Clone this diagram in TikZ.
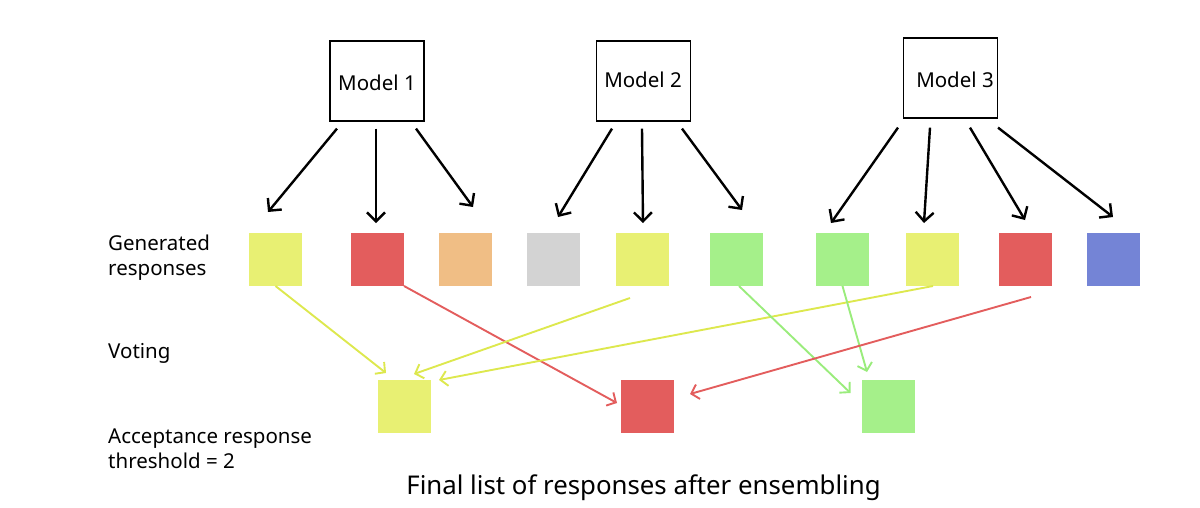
\documentclass[tikz,border=0pt]{standalone}
\usepackage{fontspec}
\setmainfont{Noto Sans}
\usetikzlibrary{arrows.meta}
\definecolor{cyel}{HTML}{E8F073}
\definecolor{cred}{HTML}{E35D5D}
\definecolor{corg}{HTML}{F0BE85}
\definecolor{cgry}{HTML}{D3D3D3}
\definecolor{cgrn}{HTML}{A5F08A}
\definecolor{cblu}{HTML}{7484D6}
\definecolor{ayel}{HTML}{DDE84E}
\definecolor{agrn}{HTML}{9AEC7C}
\tikzset{
  resp/.style={minimum size=53pt,inner sep=0pt,outer sep=0pt},
  modelbox/.style={draw=black,line width=1.2pt,minimum width=94pt,minimum height=80pt,inner sep=0pt},
  mtext/.style={font=\fontsize{20.5}{24}\selectfont,inner sep=0pt},
  barr/.style={draw=black,line width=2.4pt,-{Straight Barb[length=9pt,width=18pt,line width=2.4pt]}},
  carr/.style={line width=1.9pt,-{Straight Barb[length=7pt,width=15pt,line width=1.9pt]}},
  lbl/.style={anchor=west,align=left,font=\fontsize{20.5}{24.5}\selectfont,inner sep=0pt}
}
\begin{document}
\begin{tikzpicture}[x=1pt,y=-1pt]
\useasboundingbox (0,0) rectangle (1200,507);
% model boxes
\node[modelbox] (m1) at (377,81) {};
\node[mtext] (t1) at (377,83) {Model 1};
\node[modelbox] (m2) at (643.5,81) {};
\node[mtext] (t2) at (643,80) {Model 2};
\node[modelbox] (m3) at (950.5,78) {};
\node[mtext] (t3) at (955,80) {Model 3};
% generated responses
\node[resp,fill=cyel] (s1) at (275.5,259.5) {};
\node[resp,fill=cred] (s2) at (377.5,259.5) {};
\node[resp,fill=corg] (s3) at (465.5,259.5) {};
\node[resp,fill=cgry] (s4) at (553.5,259.5) {};
\node[resp,fill=cyel] (s5) at (642.5,259.5) {};
\node[resp,fill=cgrn] (s6) at (736.5,259.5) {};
\node[resp,fill=cgrn] (s7) at (842.5,259.5) {};
\node[resp,fill=cyel] (s8) at (932,259.5) {};
\node[resp,fill=cred] (s9) at (1025.5,259.5) {};
\node[resp,fill=cblu] (s10) at (1113,259.5) {};
% final responses
\node[resp,fill=cyel] (b1) at (404.5,406.5) {};
\node[resp,fill=cred] (b2) at (647.5,406.5) {};
\node[resp,fill=cgrn] (b3) at (888,406.5) {};
% labels
\node[lbl] (l1) at (108,257.5) {Generated\\responses};
\node[lbl] (l2) at (108,353) {Voting};
\node[lbl] (l3) at (108,448.5) {Acceptance response\\threshold = 2};
\node[font=\fontsize{25.8}{30}\selectfont,inner sep=0pt] (l4) at (643.5,488) {Final list of responses after ensembling};
% black arrows
\draw[barr] ([xshift=-40pt,yshift=-7pt]m1.south) -- ([xshift=-7.5pt,yshift=21pt]s1.north);
\draw[barr] ([xshift=-1pt,yshift=-7pt]m1.south) -- ([xshift=-1.5pt,yshift=10pt]s2.north);
\draw[barr] ([xshift=39pt,yshift=-7pt]m1.south) -- ([xshift=7.5pt,yshift=26pt]s3.north);
\draw[barr] ([xshift=-31.5pt,yshift=-7pt]m2.south) -- ([xshift=4.5pt,yshift=16pt]s4.north);
\draw[barr] ([xshift=-1.5pt,yshift=-7pt]m2.south) -- ([xshift=0.5pt,yshift=10pt]s5.north);
\draw[barr] ([xshift=38.5pt,yshift=-7pt]m2.south) -- ([xshift=5.5pt,yshift=23pt]s6.north);
\draw[barr] ([xshift=-52.5pt,yshift=-9pt]m3.south) -- ([xshift=-11.5pt,yshift=10pt]s7.north);
\draw[barr] ([xshift=-20.5pt,yshift=-9pt]m3.south) -- ([xshift=-8pt,yshift=10pt]s8.north);
\draw[barr] ([xshift=19.5pt,yshift=-9pt]m3.south) -- ([xshift=-0.5pt,yshift=13pt]s9.north);
\draw[barr] ([xshift=47.5pt,yshift=-9pt]m3.south) -- ([xshift=0pt,yshift=16pt]s10.north);
% voting arrows
\draw[carr,draw=ayel] (s1.south) -- ([xshift=-18.5pt,yshift=7pt]b1.north);
\draw[carr,draw=cred] (s2.south east) -- ([xshift=-4pt,yshift=3.5pt]b2.west);
\draw[carr,draw=ayel] ([xshift=-12.5pt,yshift=-12pt]s5.south) -- ([xshift=9.5pt,yshift=6pt]b1.north);
\draw[carr,draw=ayel] ([xshift=1pt]s8.south) -- ([xshift=8pt]b1.north east);
\draw[carr,draw=agrn] ([xshift=2.5pt]s6.south) -- ([xshift=-11pt,yshift=13.5pt]b3.west);
\draw[carr,draw=agrn] (s7.south) -- ([xshift=-21pt,yshift=8pt]b3.north);
\draw[carr,draw=cred] ([xshift=5.5pt,yshift=-11pt]s9.south) -- ([xshift=16pt,yshift=12.5pt]b2.east);
\end{tikzpicture}
\end{document}
